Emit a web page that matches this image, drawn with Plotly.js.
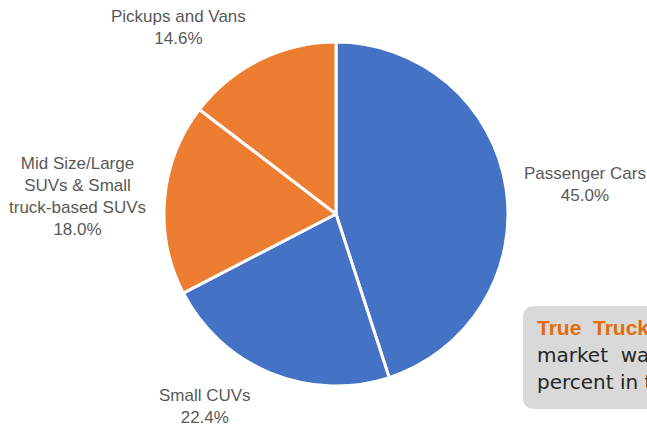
<!DOCTYPE html>
<html>
<head>
<meta charset="utf-8">
<script src="https://cdn.plot.ly/plotly-3.0.1.min.js"></script>
<style>html,body{margin:0;padding:0;background:#fff;overflow:hidden}#chart{width:647px;height:427px}</style>
</head>
<body>
<div id="chart"></div>
<script>
const categories = ["Passenger Cars", "Small CUVs", "Mid Size/Large<br>SUVs & Small<br>truck-based SUVs", "Pickups and Vans"];
const shares = [45.0, 22.4, 18.0, 14.6];
const sliceColors = ["#4472C4", "#4472C4", "#ED7D31", "#ED7D31"];
const boxLines = ["True\u00a0\u00a0Trucks", "market\u00a0 was", "percent in the"];

const W = 647, H = 427;
const labelPos = [
  {x: 585, y: 184},
  {x: 205, y: 406},
  {x: 77, y: 196},
  {x: 178, y: 28}
];

const annotations = categories.map((c, i) => ({
  xref: "paper", yref: "paper",
  x: labelPos[i].x / W, y: 1 - labelPos[i].y / H,
  xanchor: "center", yanchor: "middle",
  text: c + "<br>" + shares[i].toFixed(1) + "%",
  showarrow: false,
  align: "center",
  font: {family: "Liberation Sans, Arial, sans-serif", size: 17, color: "#595959"}
}));

const boxTextY = [327, 355, 382];
boxLines.forEach((t, i) => {
  annotations.push({
    xref: "paper", yref: "paper",
    x: 535 / W, y: 1 - boxTextY[i] / H,
    xanchor: "left", yanchor: "middle",
    text: i === 0 ? "<b>" + t + "</b>" : t,
    showarrow: false, align: "left",
    font: i === 0
      ? {family: "Liberation Sans, Arial, sans-serif", size: 21, color: "#E46C0A"}
      : {family: "DejaVu Sans, sans-serif", size: 20, color: "#262626"}
  });
});

function roundRect(x0, y0, x1, y1, r) {
  const px = v => (v / W).toFixed(5), py = v => (1 - v / H).toFixed(5);
  return "M" + px(x0 + r) + "," + py(y0) +
    " L" + px(x1 - r) + "," + py(y0) +
    " Q" + px(x1) + "," + py(y0) + " " + px(x1) + "," + py(y0 + r) +
    " L" + px(x1) + "," + py(y1 - r) +
    " Q" + px(x1) + "," + py(y1) + " " + px(x1 - r) + "," + py(y1) +
    " L" + px(x0 + r) + "," + py(y1) +
    " Q" + px(x0) + "," + py(y1) + " " + px(x0) + "," + py(y1 - r) +
    " L" + px(x0) + "," + py(y0 + r) +
    " Q" + px(x0) + "," + py(y0) + " " + px(x0 + r) + "," + py(y0) + " Z";
}

const cx = 336, cy = 214, R = 172;
const trace = {
  type: "pie",
  labels: categories,
  values: shares,
  sort: false,
  direction: "clockwise",
  rotation: 0,
  textinfo: "none",
  hoverinfo: "label+percent",
  marker: {colors: sliceColors, line: {color: "#ffffff", width: 3}},
  domain: {x: [(cx - R) / W, (cx + R) / W], y: [1 - (cy + R) / H, 1 - (cy - R) / H]},
  showlegend: false
};

const layout = {
  width: W, height: H,
  margin: {l: 0, r: 0, t: 0, b: 0},
  paper_bgcolor: "#ffffff",
  showlegend: false,
  annotations: annotations,
  shapes: [{type: "path", xref: "paper", yref: "paper", path: roundRect(523, 306, 720, 409, 12),
    fillcolor: "#D9D9D9", line: {width: 0}, layer: "below"}]
};

Plotly.newPlot("chart", [trace], layout, {displayModeBar: false, staticPlot: true});
</script>
</body>
</html>
